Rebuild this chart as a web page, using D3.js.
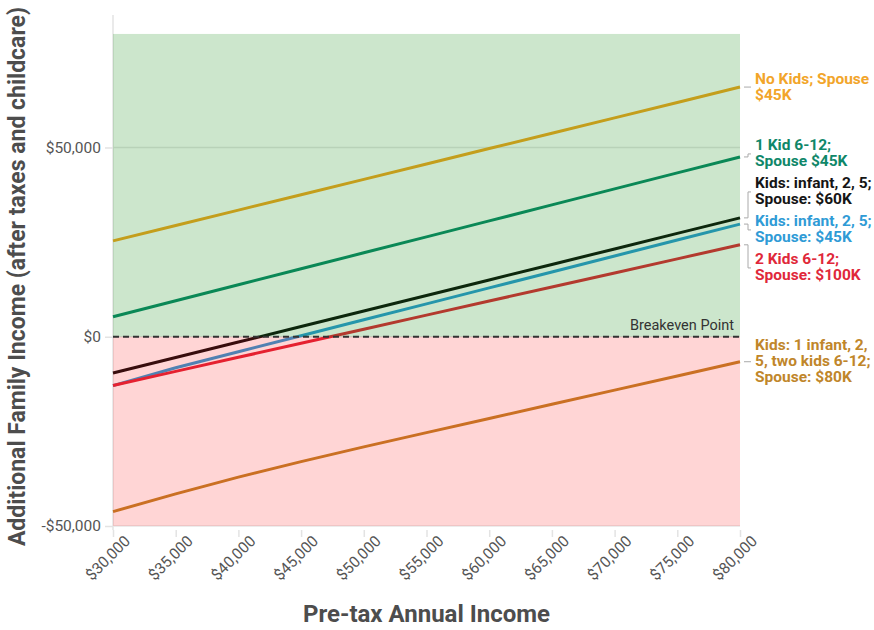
<!DOCTYPE html>
<html>
<head>
<meta charset="utf-8">
<script src="https://cdn.jsdelivr.net/npm/d3@7"></script>
<style>
  html, body { margin: 0; padding: 0; background: #fff; }
  svg { display: block; font-family: Roboto, "Noto Sans", sans-serif; }
</style>
</head>
<body>
<svg id="chart" width="874" height="630"></svg>
<script>
// ---------------- data ----------------
const incomes = [30000, 35000, 40000, 45000, 50000, 55000, 60000, 65000, 70000, 75000, 80000];

const seriesNames = [
  "No Kids; Spouse $45K",
  "1 Kid 6-12; Spouse $45K",
  "Kids: infant, 2, 5; Spouse: $45K",
  "2 Kids 6-12; Spouse: $100K",
  "Kids: infant, 2, 5; Spouse: $60K",
  "Kids: 1 infant, 2, 5, two kids 6-12; Spouse: $80K"
];
const labelLines = [
  ["No Kids; Spouse", "$45K"],
  ["1 Kid 6-12;", "Spouse $45K"],
  ["Kids: infant, 2, 5;", "Spouse: $45K"],
  ["2 Kids 6-12;", "Spouse: $100K"],
  ["Kids: infant, 2, 5;", "Spouse: $60K"],
  ["Kids: 1 infant, 2,", "5, two kids 6-12;", "Spouse: $80K"]
];
const noKidsSpouse45 = [25330, 29390, 33460, 37520, 41580, 45640, 49710, 53770, 57830, 61900, 65960];
const oneKidSpouse45 = [5280, 9500, 13720, 17950, 22170, 26390, 30610, 34830, 39060, 43280, 47500];
const infant25Spouse45 = [-12900, -8180, -3960, 250, 4470, 8680, 12900, 17110, 21330, 25540, 29760];
const twoKidsSpouse100 = [-12860, -9150, -5430, -1720, 2000, 5710, 9430, 13140, 16860, 20570, 24290];
const infant25Spouse60 = [-9600, -5500, -1400, 2700, 6800, 10900, 15000, 19100, 23200, 27300, 31400];
const fiveKidsSpouse80 = [-46200, -41500, -37100, -33000, -29100, -25330, -21600, -17850, -14100, -10350, -6600];
const seriesValues = [noKidsSpouse45, oneKidSpouse45, infant25Spouse45, twoKidsSpouse100, infant25Spouse60, fiveKidsSpouse80];

const xTicks = [30000, 35000, 40000, 45000, 50000, 55000, 60000, 65000, 70000, 75000, 80000];
const yTicks = [-50000, 0, 50000];
const gainTop = 80000;
const lossBottom = -50000;
const breakevenLabel = "Breakeven Point";
const xTitle = "Pre-tax Annual Income";
const yTitle = "Additional Family Income (after taxes and childcare)";

// ---------------- styles ----------------
const colors = ["#f5a623", "#0d8a6c", "#2f9bd6", "#e0283a", "#111111", "#c0862a"];
const labelColors = ["#f2a52a", "#0f8769", "#2f9bd6", "#e0283a", "#151515", "#c0862a"];

// ---------------- layout ----------------
const svg = d3.select("#chart");
const mLeft = 113, mRight = 740, mTop = 15, mBottom = 526;

const x = d3.scaleLinear().domain([30000, 80000]).range([mLeft, mRight]);
const y = d3.scaleLinear().domain([-50000, 85000]).range([mBottom, mTop]);
const fmt = d => (d < 0 ? "-$" : "$") + d3.format(",")(Math.abs(d));

// y axis
const yAxis = svg.append("g").attr("transform", `translate(${mLeft},0)`)
  .call(d3.axisLeft(y).tickValues(yTicks).tickFormat(fmt).tickSize(8).tickPadding(4));
yAxis.select(".domain").attr("stroke", "#e3e3e3").attr("stroke-width", 1.5)
  .attr("d", `M0,${mTop}V${mBottom + 4}`);
yAxis.selectAll(".tick line").attr("stroke", "#e3e3e3").attr("stroke-width", 1.5);
yAxis.selectAll(".tick text").attr("fill", "#555").style("font-size", "15.5px").style("font-family", "Roboto");

// gridlines
svg.append("g").selectAll("line").data(yTicks).join("line")
  .attr("x1", mLeft).attr("x2", mRight)
  .attr("y1", d => y(d)).attr("y2", d => y(d))
  .attr("stroke", "#e6e6e6").attr("stroke-width", 1.5);

// x axis
const xAxis = svg.append("g").attr("transform", `translate(0,${mBottom + 4})`)
  .call(d3.axisBottom(x).tickValues(xTicks).tickFormat(fmt).tickSize(7).tickPadding(3));
xAxis.select(".domain").remove();
xAxis.selectAll(".tick line").attr("stroke", "#e3e3e3").attr("stroke-width", 1.5);
xAxis.selectAll(".tick text")
  .attr("fill", "#555").style("font-size", "15.5px").style("font-family", "Roboto")
  .attr("text-anchor", "end")
  .attr("dx", "4").attr("dy", "11")
  .attr("transform", "rotate(-45)");

// lines (drawn under translucent region overlays)
const line = d3.line().x((d, i) => x(incomes[i])).y(d => y(d));
svg.append("g").selectAll("path").data(seriesValues).join("path")
  .attr("d", d => line(d))
  .attr("fill", "none")
  .attr("stroke", (d, i) => colors[i])
  .attr("stroke-width", 3)
  .attr("stroke-linejoin", "round");

// region overlays
svg.append("rect").attr("x", mLeft).attr("width", mRight - mLeft)
  .attr("y", y(gainTop)).attr("height", y(0) - y(gainTop))
  .attr("fill", "rgb(0,128,0)").attr("fill-opacity", 0.2);
svg.append("rect").attr("x", mLeft).attr("width", mRight - mLeft)
  .attr("y", y(0)).attr("height", y(lossBottom) - y(0))
  .attr("fill", "rgb(255,0,0)").attr("fill-opacity", 0.165);

// breakeven line
svg.append("line").attr("x1", mLeft).attr("x2", mRight)
  .attr("y1", y(0)).attr("y2", y(0))
  .attr("stroke", "#333").attr("stroke-width", 2).attr("stroke-dasharray", "6,4");
svg.append("text").attr("x", mRight - 6).attr("y", y(0) - 7)
  .attr("text-anchor", "end").attr("fill", "#333")
  .style("font-size", "14.5px").text(breakevenLabel);

// end labels with simple dodge
const lineH = 16;
const items = seriesValues.map((v, i) => ({
  i, yEnd: y(v[v.length - 1]), h: labelLines[i].length * lineH
}));
items.forEach(d => d.c = d.yEnd);
const sorted = items.slice().sort((a, b) => a.yEnd - b.yEnd);
const gap = 6;
for (let iter = 0; iter < 200; iter++) {
  for (let k = 1; k < sorted.length; k++) {
    const a = sorted[k - 1], b = sorted[k];
    const minD = a.h / 2 + b.h / 2 + gap;
    const d = b.c - a.c;
    if (d < minD) {
      const push = (minD - d) / 2;
      a.c -= push; b.c += push;
    }
  }
}
const lab = svg.append("g");
items.forEach(d => {
  lab.append("path")
    .attr("d", `M${mRight + 4},${d.yEnd}H${mRight + 8}V${d.c}H${mRight + 11}`)
    .attr("fill", "none").attr("stroke", "#aaa").attr("stroke-width", 1);
  const t = lab.append("text")
    .attr("x", mRight + 15)
    .attr("y", d.c - d.h / 2 + lineH * 0.78)
    .attr("fill", labelColors[d.i])
    .style("font-size", "15.5px").style("font-weight", "bold");
  labelLines[d.i].forEach((s, k) => {
    t.append("tspan").attr("x", mRight + 15).attr("dy", k === 0 ? 0 : lineH).text(s);
  });
});

// axis titles
svg.append("text").attr("x", (mLeft + mRight) / 2).attr("y", 622)
  .attr("text-anchor", "middle").attr("fill", "#4d4d4d")
  .style("font-size", "24px").style("font-weight", "bold").text(xTitle);
svg.append("text")
  .attr("transform", `translate(25,${(mTop + mBottom) / 2 + 6}) rotate(-90)`)
  .attr("text-anchor", "middle").attr("fill", "#4d4d4d")
  .style("font-size", "23px").style("font-weight", "bold").text(yTitle);
</script>
</body>
</html>
